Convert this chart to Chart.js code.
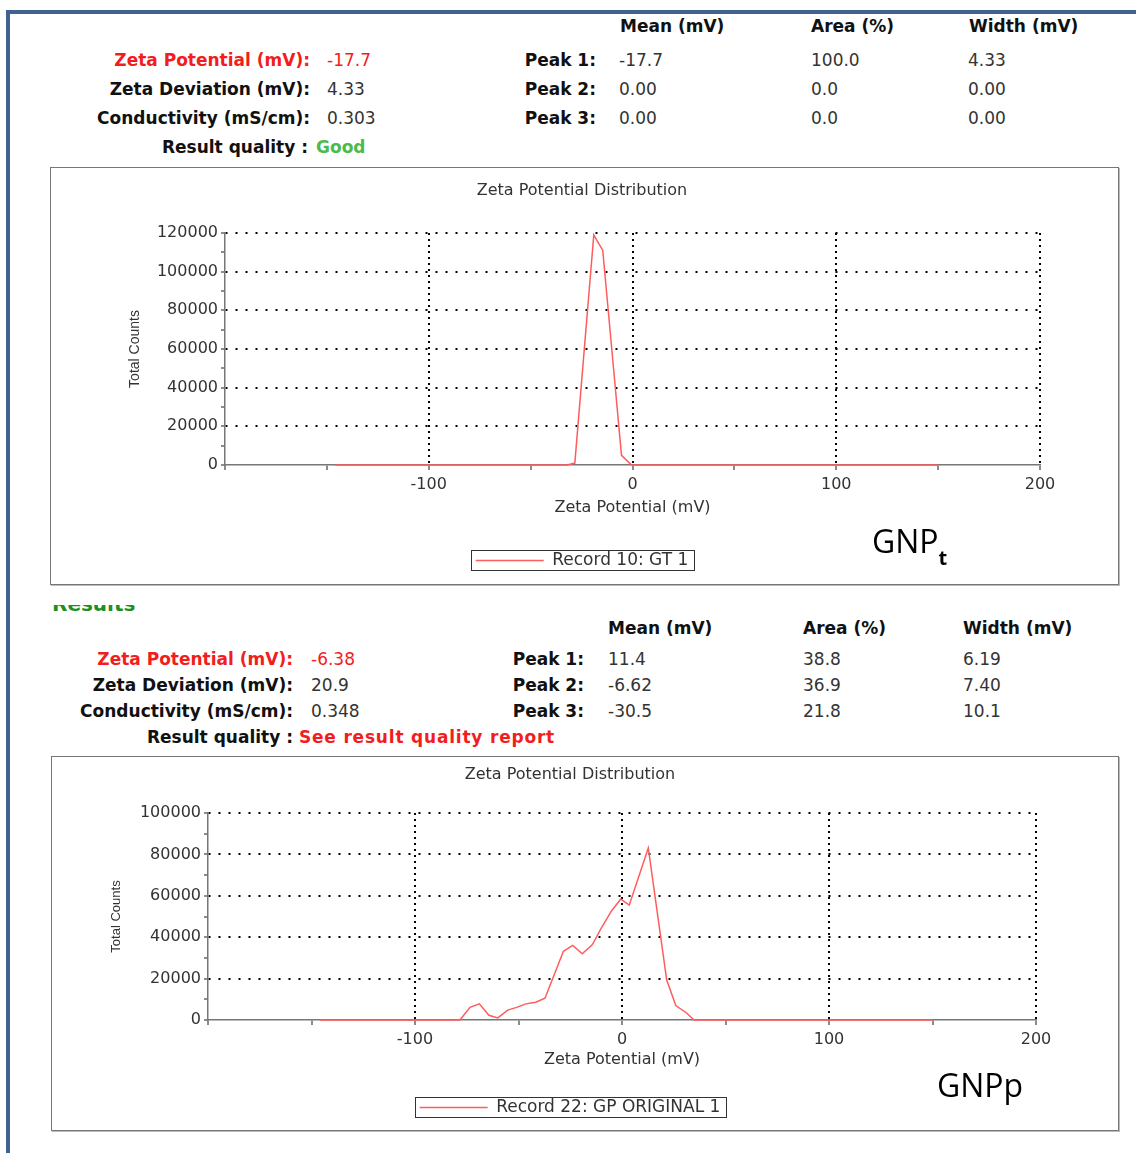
<!DOCTYPE html>
<html>
<head>
<meta charset="utf-8">
<script src="https://cdn.jsdelivr.net/npm/chart.js@4.4.1/dist/chart.umd.min.js"></script>
<style>
body { margin: 0; width: 1136px; height: 1153px; position: relative; background: #fff; overflow: hidden; font-family: "DejaVu Sans", sans-serif; }
.bar-top { position: absolute; left: 6px; top: 10px; width: 1130px; height: 4px; background: #41618f; }
.bar-left { position: absolute; left: 6px; top: 10px; width: 4px; height: 1143px; background: #41618f; }
.t { position: absolute; font-size: 17px; line-height: 20px; white-space: nowrap; color: #333; }
.b { font-weight: bold; color: #111; }
.red { color: #f21d1d; }
.green { color: #4cbb4c; }
.box { position: absolute; box-sizing: border-box; border: 1px solid #777; box-shadow: 1px 1px 0 #bbb; }
canvas { position: absolute; }
.tag { position: absolute; font-family: "Open Sans", sans-serif; font-size: 32px; line-height: 32px; color: #000; white-space: nowrap; }
.tag sub { font-size: 20px; font-weight: bold; vertical-align: -12px; line-height: 0; }
.cut { position: absolute; left: 52px; top: 605px; height: 8px; width: 120px; overflow: hidden; }
.cut span { position: absolute; left: 0; top: -11px; font-size: 20px; line-height: 20px; font-weight: bold; color: #1f8f1f; }
</style>
</head>
<body>
<div class="bar-top"></div>
<div class="bar-left"></div>

<!-- GT 1 results -->
<div class="t b" style="left:620px;top:16px">Mean (mV)</div>
<div class="t b" style="left:811px;top:16px">Area (%)</div>
<div class="t b" style="left:969px;top:16px">Width (mV)</div>

<div class="t b red" style="right:826px;top:50px">Zeta Potential (mV):</div>
<div class="t red" style="left:327px;top:50px">-17.7</div>
<div class="t b" style="right:826px;top:79px">Zeta Deviation (mV):</div>
<div class="t" style="left:327px;top:79px">4.33</div>
<div class="t b" style="right:826px;top:108px">Conductivity (mS/cm):</div>
<div class="t" style="left:327px;top:108px">0.303</div>
<div class="t b" style="right:828px;top:137px">Result quality :</div>
<div class="t b green" style="left:316px;top:137px">Good</div>

<div class="t b" style="right:540px;top:50px">Peak 1:</div>
<div class="t" style="left:619px;top:50px">-17.7</div>
<div class="t" style="left:811px;top:50px">100.0</div>
<div class="t" style="left:968px;top:50px">4.33</div>
<div class="t b" style="right:540px;top:79px">Peak 2:</div>
<div class="t" style="left:619px;top:79px">0.00</div>
<div class="t" style="left:811px;top:79px">0.0</div>
<div class="t" style="left:968px;top:79px">0.00</div>
<div class="t b" style="right:540px;top:108px">Peak 3:</div>
<div class="t" style="left:619px;top:108px">0.00</div>
<div class="t" style="left:811px;top:108px">0.0</div>
<div class="t" style="left:968px;top:108px">0.00</div>

<div class="box" style="left:50px;top:167px;width:1069px;height:418px"></div>
<canvas id="chartGT" width="1066" height="415" style="left:51px;top:168px"></canvas>
<div class="tag" style="left:872px;top:525px">GNP<sub>t</sub></div>

<div class="cut"><span>Results</span></div>

<!-- GP ORIGINAL 1 results -->
<div class="t b" style="left:608px;top:618px">Mean (mV)</div>
<div class="t b" style="left:803px;top:618px">Area (%)</div>
<div class="t b" style="left:963px;top:618px">Width (mV)</div>

<div class="t b red" style="right:843px;top:649px">Zeta Potential (mV):</div>
<div class="t red" style="left:311px;top:649px">-6.38</div>
<div class="t b" style="right:843px;top:675px">Zeta Deviation (mV):</div>
<div class="t" style="left:311px;top:675px">20.9</div>
<div class="t b" style="right:843px;top:701px">Conductivity (mS/cm):</div>
<div class="t" style="left:311px;top:701px">0.348</div>
<div class="t b" style="right:843px;top:727px">Result quality :</div>
<div class="t b red" style="left:299px;top:727px;letter-spacing:0.8px">See result quality report</div>

<div class="t b" style="right:552px;top:649px">Peak 1:</div>
<div class="t" style="left:608px;top:649px">11.4</div>
<div class="t" style="left:803px;top:649px">38.8</div>
<div class="t" style="left:963px;top:649px">6.19</div>
<div class="t b" style="right:552px;top:675px">Peak 2:</div>
<div class="t" style="left:608px;top:675px">-6.62</div>
<div class="t" style="left:803px;top:675px">36.9</div>
<div class="t" style="left:963px;top:675px">7.40</div>
<div class="t b" style="right:552px;top:701px">Peak 3:</div>
<div class="t" style="left:608px;top:701px">-30.5</div>
<div class="t" style="left:803px;top:701px">21.8</div>
<div class="t" style="left:963px;top:701px">10.1</div>

<div class="box" style="left:51px;top:756px;width:1068px;height:375px"></div>
<canvas id="chartGP" width="1065" height="372" style="left:52px;top:757px"></canvas>
<div class="tag" style="left:937px;top:1069px">GNPp</div>

<script>
// zeta potential (mV) against total counts
var gtPotential = [-146, -32, -28.3, -19, -14.6, -5.4, -0.5, 150];
var gtCounts = [0, 0, 1000, 119000, 111000, 5000, 0, 0];

var gpPotential = [-146, -78.3, -73.4, -68.9, -64.3, -60, -55.2, -50.9, -46.4, -41.7, -37.2,
	-28.3, -23.8, -19.2, -14.3, -9.8, -5.0, -0.6, 3.5, 12.7, 21.6, 26, 31.2, 34.8, 150];
var gpCounts = [0, 0, 6100, 7800, 2300, 1000, 4800, 6100, 7800, 8600, 10500,
	33200, 36000, 32000, 36400, 44800, 52800, 58400, 55500, 83100, 19300, 7000, 3400, 0, 0];

var xTickLabels = [-100, 0, 100, 200];
var yTickLabelsGT = [0, 20000, 40000, 60000, 80000, 100000, 120000];
var yTickLabelsGP = [0, 20000, 40000, 60000, 80000, 100000];

var FONT = 'DejaVu Sans';
var LINE = '#ff5c5c';

function points(xs, ys) {
	return xs.map(function (x, i) { return { x: x, y: ys[i] }; });
}

// box drawn round the legend entry, as in the instrument report
var legendFrame = {
	id: 'legendFrame',
	afterDraw: function (chart) {
		var hb = chart.legend.legendHitBoxes[0];
		if (!hb) return;
		var ctx = chart.ctx;
		ctx.save();
		ctx.strokeStyle = '#333';
		ctx.lineWidth = 1;
		ctx.strokeRect(Math.round(hb.left - 5) + 0.5, Math.round(hb.top - 2) + 0.5, Math.round(hb.width + 10), Math.round(hb.height + 3));
		ctx.restore();
	}
};

function makeChart(id, o) {
	return new Chart(id, {
		type: 'scatter',
		data: {
			datasets: [{
				label: o.label,
				data: points(o.xs, o.ys),
				showLine: true,
				borderColor: LINE,
				backgroundColor: LINE,
				borderWidth: 1.5,
				pointRadius: 0,
				tension: 0,
				clip: 4
			}]
		},
		plugins: [legendFrame],
		options: {
			responsive: false,
			animation: false,
			layout: { padding: o.padding },
			plugins: {
				tooltip: { enabled: false },
				title: {
					display: true,
					text: 'Zeta Potential Distribution',
					color: '#333',
					font: { family: FONT, size: 16, weight: 'normal' },
					padding: o.titlePadding
				},
				legend: {
					position: 'bottom',
					labels: {
						color: '#333',
						font: { family: FONT, size: 17 },
						usePointStyle: true,
						pointStyle: 'line',
						pointStyleWidth: 68,
						padding: o.legendPadding
					}
				}
			},
			scales: {
				x: {
					type: 'linear',
					min: -200,
					max: 200,
					afterFit: function (s) { s.height = o.xHeight; },
					ticks: {
						stepSize: 50,
						autoSkip: false,
						maxRotation: 0,
						padding: o.xTickPad,
						color: '#333',
						font: { family: FONT, size: 16 },
						callback: function (v) { return xTickLabels.indexOf(v) >= 0 ? v : ''; }
					},
					grid: {
						lineWidth: 2,
						color: function (c) {
							var v = c.tick && c.tick.value;
							return xTickLabels.indexOf(v) >= 0 ? '#000' : 'rgba(0,0,0,0)';
						},
						tickColor: '#666',
						tickWidth: 1.5,
						tickLength: 5
					},
					border: { color: '#777', width: 1.5, dash: [2, 4] },
					title: {
						display: true,
						text: 'Zeta Potential (mV)',
						color: '#333',
						font: { family: FONT, size: 16 },
						padding: { top: 0, bottom: o.xTitlePad }
					}
				},
				y: {
					min: 0,
					max: o.yMax,
					afterFit: function (s) { s.width = o.yWidth; },
					ticks: {
						stepSize: 10000,
						autoSkip: false,
						padding: 3,
						color: '#333',
						font: { family: FONT, size: 16 },
						callback: function (v) { return o.yLabels.indexOf(v) >= 0 ? v : ''; }
					},
					grid: {
						lineWidth: 2,
						color: function (c) {
							var v = c.tick && c.tick.value;
							return v > 0 && o.yLabels.indexOf(v) >= 0 ? '#000' : 'rgba(0,0,0,0)';
						},
						tickColor: '#666',
						tickWidth: 1.5,
						tickLength: 4
					},
					border: { color: '#777', width: 1.5, dash: [2, 8] },
					title: {
						display: true,
						text: 'Total Counts',
						color: '#333',
						font: { family: 'Liberation Sans', size: o.yTitleSize },
						padding: { top: o.yTitlePad, bottom: 0 }
					}
				}
			}
		}
	});
}

makeChart('chartGT', {
	label: 'Record 10: GT 1',
	xs: gtPotential,
	ys: gtCounts,
	yMax: 120000,
	yLabels: yTickLabelsGT,
	padding: { left: 73, right: 77, top: 0, bottom: 4 },
	titlePadding: { top: 13, bottom: 32.8 },
	legendPadding: 10,
	xHeight: 77,
	xTickPad: 5,
	xTitlePad: 24.4,
	yWidth: 101,
	yTitleSize: 14,
	yTitlePad: 2.6
});

makeChart('chartGP', {
	label: 'Record 22: GP ORIGINAL 1',
	xs: gpPotential,
	ys: gpCounts,
	yMax: 100000,
	yLabels: yTickLabelsGP,
	padding: { left: 52, right: 81, top: 0, bottom: 3 },
	titlePadding: { top: 8.4, bottom: 28.4 },
	legendPadding: 8,
	xHeight: 71,
	xTickPad: 5,
	xTitlePad: 21.4,
	yWidth: 104,
	yTitleSize: 13,
	yTitlePad: 4.2
});
</script>
</body>
</html>
